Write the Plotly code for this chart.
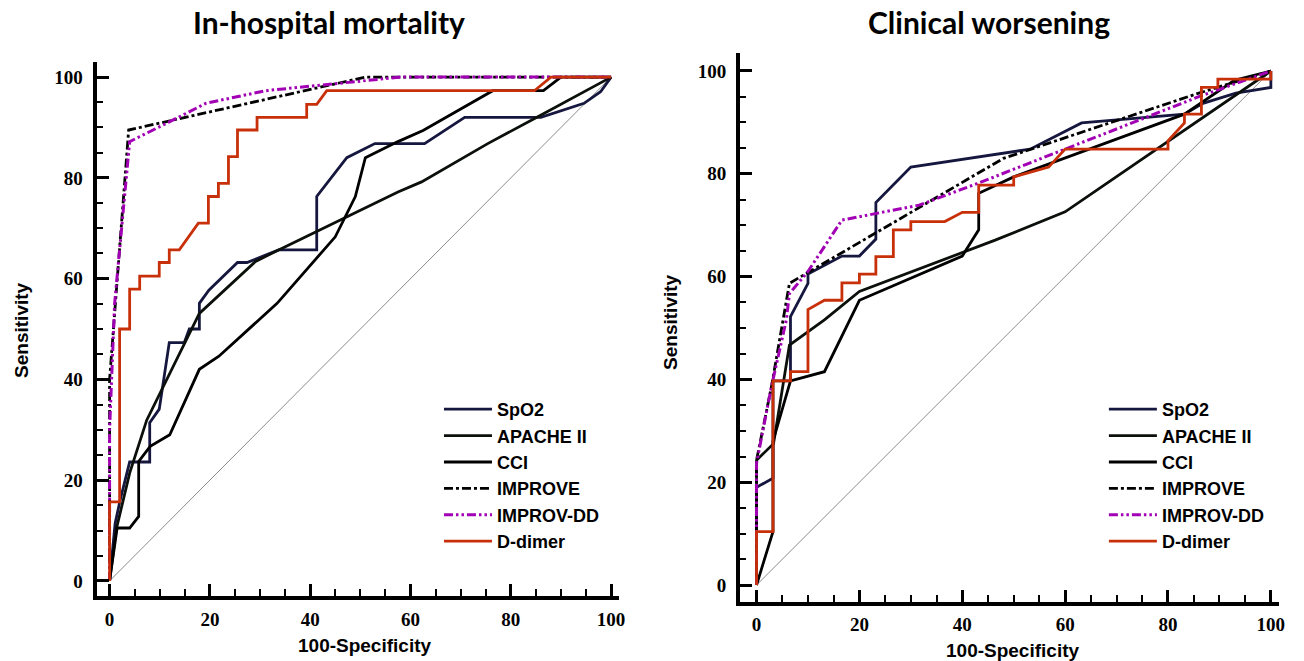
import plotly.graph_objects as go

# ---------------- data: In-hospital mortality ----------------
mort_spo2_x = [0, 1.1, 2.1, 4, 8, 8, 9.9, 11.9, 14.9, 15.9, 17.9, 17.9, 19.8, 25.5, 27.4, 33.7, 41.3, 41.3, 47.3, 52.9, 62.8, 70.8, 86, 94.6, 97.9, 100]
mort_spo2_y = [0, 11.4, 16, 23.6, 23.6, 31.4, 34.1, 47.3, 47.3, 50, 50, 55.1, 57.7, 63.2, 63.2, 65.7, 65.7, 76.3, 84, 86.8, 86.8, 92, 92, 94.8, 97.1, 100]
mort_apache_x = [0, 1.3, 4, 7.4, 17.9, 29.1, 33.7, 57.5, 62.2, 75.4, 85.3, 100]
mort_apache_y = [0, 10.1, 21.4, 31.9, 53.1, 63.4, 65.7, 77.2, 79.2, 86.8, 92.1, 100]
mort_cci_x = [0, 1.5, 4, 5.8, 5.8, 8.1, 12, 17.9, 21.8, 33.4, 45, 49, 51, 57.5, 62.5, 76.4, 86.5, 90, 100]
mort_cci_y = [0, 10.5, 10.5, 12.8, 23.7, 26.7, 29, 42, 44.6, 55.1, 68.3, 76.3, 84, 87.2, 89.4, 97.3, 97.3, 100, 100]
mort_improve_x = [0, 0, 3.8, 51, 100]
mort_improve_y = [0, 40, 89.5, 100, 100]
mort_improvdd_x = [0, 0, 1, 4, 11.9, 19.2, 31.1, 44.3, 58, 100]
mort_improvdd_y = [0, 30, 55, 87.2, 91.1, 94.8, 97.3, 98.6, 100, 100]
mort_ddimer_x = [0, 0, 2, 2, 4, 4, 6, 6, 9.9, 9.9, 11.9, 11.9, 13.9, 17.7, 19.7, 19.7, 21.7, 21.7, 23.7, 23.7, 25.5, 25.5, 29.4, 29.4, 39.3, 39.3, 41.3, 43.3, 84.7, 88, 100]
mort_ddimer_y = [0, 15.7, 15.7, 50, 50, 57.9, 57.9, 60.5, 60.5, 63.2, 63.2, 65.7, 65.7, 71, 71, 76.3, 76.3, 78.9, 78.9, 84.2, 84.2, 89.5, 89.5, 92, 92, 94.6, 94.6, 97.3, 97.3, 100, 100]

# ---------------- data: Clinical worsening ----------------
wors_spo2_x = [0, 0, 3.2, 3.2, 6.6, 6.6, 10, 10, 16.6, 20, 23.2, 23.2, 30, 53.2, 63.2, 83.2, 86.8, 93.2, 100, 100]
wors_spo2_y = [0, 19, 20.8, 39.7, 39.7, 52.2, 58.7, 60.5, 64, 64, 67.3, 74.4, 81.3, 84.8, 89.9, 91.6, 93.7, 95.7, 96.8, 100]
wors_apache_x = [0, 0, 3.3, 6.4, 13.2, 20, 46.4, 60, 100]
wors_apache_y = [0, 24.3, 27.5, 46.7, 51.6, 57.1, 67.1, 72.6, 100]
wors_cci_x = [0, 3.2, 3.2, 6.6, 13.2, 20, 40, 43.2, 43.2, 50, 83.2, 92.9, 100]
wors_cci_y = [0, 10.4, 28, 39.7, 41.5, 55.4, 64, 69.1, 76.2, 79.4, 91.6, 98.2, 100]
wors_improve_x = [0, 0, 2.9, 6.4, 10, 48, 86, 100]
wors_improve_y = [0, 24.3, 38.6, 58.7, 60.8, 83, 95.7, 100]
wors_improvdd_x = [0, 0, 2.9, 5.8, 6.4, 10, 16.6, 31.6, 42.9, 86, 100]
wors_improvdd_y = [0, 23.7, 38.6, 51.6, 56.7, 61, 71, 73.9, 78.1, 95, 100]
wors_ddimer_x = [0, 0, 3.2, 3.2, 6.6, 6.6, 10, 10, 13.2, 16.6, 16.6, 20, 20, 23.2, 23.2, 26.6, 26.6, 30, 30, 36.6, 40, 43.2, 43.2, 50, 50, 56.8, 60, 80, 80, 83.2, 83.2, 86.5, 86.5, 89.7, 89.7, 100, 100]
wors_ddimer_y = [0, 10.4, 10.4, 39.7, 39.7, 41.5, 41.5, 53.6, 55.4, 55.4, 58.8, 58.8, 60.5, 60.5, 63.9, 63.9, 69.1, 69.1, 70.7, 70.7, 72.5, 72.5, 77.8, 77.8, 79.4, 81.3, 84.8, 84.8, 86.4, 89.9, 91.6, 91.6, 96.8, 96.8, 98.4, 98.4, 100]

diag_x = [0, 100]
diag_y = [0, 100]

names = ["SpO2", "APACHE II", "CCI", "IMPROVE", "IMPROV-DD", "D-dimer"]
colors = ["#16173f", "#0b100b", "#000000", "#000000", "#a200b4", "#c8300a"]
dashes = ["solid", "solid", "solid", "9px,3px,3px,3px", "9px,3px,2.5px,3px,2.5px,3px", "solid"]
widths = [2.8, 2.8, 2.8, 2.8, 3, 2.8]

mort = [(mort_spo2_x, mort_spo2_y), (mort_apache_x, mort_apache_y), (mort_cci_x, mort_cci_y),
        (mort_improve_x, mort_improve_y), (mort_improvdd_x, mort_improvdd_y), (mort_ddimer_x, mort_ddimer_y)]
wors = [(wors_spo2_x, wors_spo2_y), (wors_apache_x, wors_apache_y), (wors_cci_x, wors_cci_y),
        (wors_improve_x, wors_improve_y), (wors_improvdd_x, wors_improvdd_y), (wors_ddimer_x, wors_ddimer_y)]

fig = go.Figure()

for xa, ya, leg, data in [("x", "y", "legend", mort), ("x2", "y2", "legend2", wors)]:
    fig.add_trace(go.Scatter(x=diag_x, y=diag_y, mode="lines", xaxis=xa, yaxis=ya,
                             line=dict(color="#8c8c8c", width=1), showlegend=False, hoverinfo="skip"))
    for i, (xs, ys) in enumerate(data):
        fig.add_trace(go.Scatter(x=xs, y=ys, mode="lines", name=names[i], xaxis=xa, yaxis=ya,
                                 legend=leg,
                                 line=dict(color=colors[i], width=widths[i], dash=dashes[i])))

NARROW = "Liberation Sans Narrow"
tickfont = dict(family=NARROW, size=19, color="black", weight="bold")

def xax(domain, rng):
    return dict(domain=domain, range=rng, showgrid=False, zeroline=False, showline=True,
                linewidth=4, linecolor="black", ticks="inside", ticklen=12, tickwidth=2.5,
                tickcolor="black", tickvals=[0, 20, 40, 60, 80, 100], tickfont=tickfont,
                ticklabelstandoff=3,
                minor=dict(dtick=5, ticks="inside", ticklen=7, tickwidth=1.5, tickcolor="black", showgrid=False))

def yax(domain, rng, anchor):
    return dict(domain=domain, range=rng, anchor=anchor, showgrid=False, zeroline=False, showline=True,
                linewidth=4, linecolor="black", ticks="inside", ticklen=12, tickwidth=2.5,
                tickcolor="black", tickvals=[0, 20, 40, 60, 80, 100], tickfont=tickfont,
                ticklabelstandoff=6,
                minor=dict(dtick=5, ticks="inside", ticklen=6, tickwidth=1.5, tickcolor="black", showgrid=False))

W, H = 1304, 661
legfont = dict(family="Liberation Sans", size=18, color="black", weight="bold")
fig.update_layout(
    width=W, height=H, margin=dict(l=0, r=0, t=0, b=0),
    plot_bgcolor="white", paper_bgcolor="white",
    xaxis=xax([97 / W, 622 / W], [-2.6, 101.6]) | dict(anchor="y"),
    yaxis=yax([(H - 596) / H, (H - 62) / H], [-3, 103], "x"),
    xaxis2=xax([743.5 / W, 1285 / W], [-3.2, 101.6]) | dict(anchor="y2"),
    yaxis2=yax([(H - 601.5) / H, (H - 53) / H], [-3.2, 103.5], "x2"),
    legend=dict(x=441 / W, y=(H - 391) / H, xanchor="left", yanchor="top", bgcolor="rgba(0,0,0,0)",
                font=legfont, tracegroupgap=0, itemwidth=48),
    legend2=dict(x=1109 / W, y=(H - 391) / H, xanchor="left", yanchor="top", bgcolor="rgba(0,0,0,0)",
                 font=legfont, tracegroupgap=0, itemwidth=48),
    showlegend=True,
)

title_font = dict(family="Lato", size=30, color="black", weight="bold")
label_font = dict(family="Liberation Sans", size=19, color="black", weight="bold")
annots = [
    dict(text="In-hospital mortality", x=331 / W, y=(H - 22) / H, font=title_font),
    dict(text="Clinical worsening", x=994 / W, y=(H - 22) / H, font=title_font),
    dict(text="Sensitivity", x=21 / W, y=(H - 330) / H, font=label_font, textangle=-90),
    dict(text="Sensitivity", x=673 / W, y=(H - 322) / H, font=label_font, textangle=-90),
    dict(text="100-Specificity", x=366 / W, y=(H - 645) / H, font=label_font),
    dict(text="100-Specificity", x=1017 / W, y=(H - 650) / H, font=label_font),
]
for a in annots:
    fig.add_annotation(xref="paper", yref="paper", showarrow=False, xanchor="center", yanchor="middle", **a)

fig.write_html("out.html", config={"displayModeBar": False},
               post_script="document.body.style.margin='0';document.body.style.padding='0';document.body.style.overflow='hidden';")
